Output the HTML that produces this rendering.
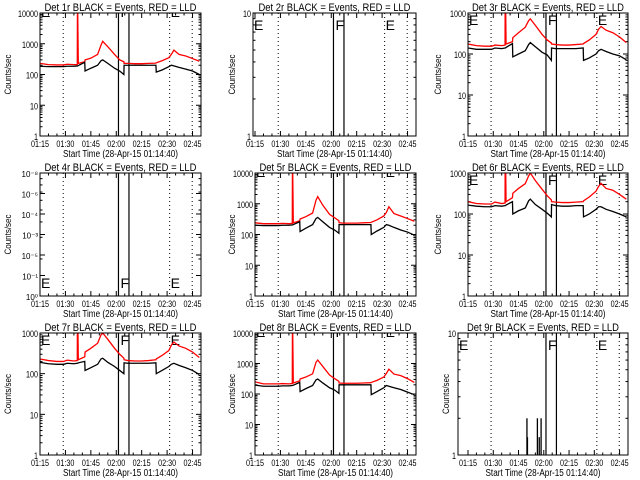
<!DOCTYPE html>
<html><head><meta charset="utf-8"><style>
html,body{margin:0;padding:0;background:#fff;}
svg{display:block;font-family:"Liberation Sans",sans-serif;}
</style></head><body>
<svg id="chart" width="640" height="480" viewBox="0 0 640 480" xmlns="http://www.w3.org/2000/svg">
<rect width="640" height="480" fill="#fff"/>
</svg>
<script>
// time (minutes after 01:15) sample points
const times = [0,5,10,14,16,20,22,22.1,22.2,22.6,26.4,26.6,30,34,36,37,40,44,47,49.5,49.6,52,56,60,64,68.4,68.6,72,76,77.5,79,82,86,90,94];
const tickLabels = ["01:15","01:30","01:45","02:00","02:15","02:30","02:45"];
const tickMinutes = [0,15,30,45,60,75,90];
const dottedMinutes = [13.7,76.5,89.8];
const solidMinutes = [46.3,52.5];
const black1 = [185,180,180,180,185,185,190,190,190,195,250,130,160,200,280,300,230,160,130,100,200,200,200,200,200,200,120,140,180,200,190,170,150,130,100];
const red1   = [230,210,205,205,215,210,210,20000,20000,230,260,300,340,450,900,1200,800,450,300,260,230,230,225,225,230,235,240,280,350,450,620,450,400,330,270];
const black3 = [140,130,130,130,140,135,140,140,140,145,180,85,100,120,170,190,150,110,95,70,140,135,135,135,135,140,70,80,100,120,130,115,100,90,72];
const red3   = [175,160,155,155,165,160,165,5000,5000,175,200,250,330,450,650,720,500,300,220,185,175,170,165,165,170,175,180,220,300,400,470,380,330,260,190];
const black5 = [200,195,195,195,200,200,205,205,205,210,260,125,160,210,330,360,260,170,140,110,210,210,210,210,210,210,100,130,170,210,200,170,140,120,95];
const red5   = [240,225,225,225,230,225,230,20000,20000,240,280,320,380,500,1300,1700,900,450,350,280,240,235,235,235,240,245,250,300,400,520,800,480,400,330,270];
const black6 = [165,155,150,150,160,155,160,160,160,165,200,100,120,140,210,230,170,130,105,85,170,160,155,155,160,160,85,100,130,150,150,130,115,100,85];
const red6   = [200,180,175,175,195,180,185,5000,5000,200,250,320,420,550,850,1000,650,400,280,220,200,195,190,190,195,200,210,260,360,470,560,420,380,300,230];
const black7 = [190,175,170,170,180,175,180,180,180,185,200,120,140,170,230,240,190,150,120,100,185,180,180,180,180,185,100,120,150,170,180,160,140,120,95];
const red7   = [230,210,200,200,215,205,210,5000,5000,220,260,340,420,560,900,1000,700,420,300,240,220,210,205,205,210,220,230,280,370,500,600,480,420,340,250];
const black8 = [195,180,180,180,185,185,190,190,190,195,240,120,150,190,290,310,230,160,135,105,200,200,200,200,200,200,95,120,160,190,180,160,140,115,95];
const red8   = [250,215,215,215,220,215,220,20000,20000,230,270,310,360,460,1100,1300,800,420,320,260,230,225,225,225,230,235,240,280,360,470,650,450,400,320,240];
const spikeTimes9 = [35.0,35.3,41.2,42.3,43.4];
const spikeValues9 = [2,1.4,2,1.4,2];

const NS = "http://www.w3.org/2000/svg";
const svg = document.getElementById("chart");
function mk(tag, attrs, parent){const e=document.createElementNS(NS,tag);for(const k in attrs)e.setAttribute(k,attrs[k]);(parent||svg).appendChild(e);return e;}

const colL=[40,255,468], colR=[201,416,628], rowT=[13,173,333], rowB=[136,296,455];
const ylabX=[11,235,441];
const panels=[
 {n:1,r:0,c:0,ymax:4,black:black1,red:red1,letter:"clipTop"},
 {n:2,r:0,c:1,ymax:1,boxL:253,letter:"top",empty:true},
 {n:3,r:0,c:2,ymax:3,black:black3,red:red3,letter:"in"},
 {n:4,r:1,c:0,ymax:1,letter:"bottom",empty:true,weird:true},
 {n:5,r:1,c:1,ymax:4,black:black5,red:red5,letter:"clipTop"},
 {n:6,r:1,c:2,ymax:3,black:black6,red:red6,letter:"in"},
 {n:7,r:2,c:0,ymax:3,black:black7,red:red7,letter:"in"},
 {n:8,r:2,c:1,ymax:4,black:black8,red:red8,letter:"clipTop"},
 {n:9,r:2,c:2,ymax:1,boxL:458,letter:"top",spikes:true},
];
const XMAX=95;
const fit={"lengthAdjust":"spacingAndGlyphs"};
panels.forEach(p=>{
 const L=colL[p.c],R=colR[p.c],T=rowT[p.r],B=rowB[p.r];
 const BL=p.boxL||L;
 const g=mk("g",{});
 
 
 const xs=m=>L+(m/XMAX)*(R-L);
 const ys=v=>B-(Math.log10(v)/p.ymax)*(B-T);
 const cid="clip"+p.n;
 const cp=mk("clipPath",{id:cid},g);mk("rect",{x:BL,y:T,width:R-BL,height:B-T},cp);
 const t=mk("text",{x:(BL+R)/2,y:T-2,"text-anchor":"middle","font-size":"11",textLength:"152",lengthAdjust:"spacingAndGlyphs"},g);
 t.textContent="Det "+p.n+"r BLACK = Events, RED = LLD";
 
 
 tickMinutes.forEach((m,i)=>{
  const tx=mk("text",{x:xs(m),y:B+11,"text-anchor":"middle","font-size":"9",textLength:"18",lengthAdjust:"spacingAndGlyphs"},g);
  tx.textContent=tickLabels[i];
  
  
  mk("line",{x1:xs(m),x2:xs(m),y1:B,y2:B-5,stroke:"#000"},g);
  mk("line",{x1:xs(m),x2:xs(m),y1:T,y2:T+5,stroke:"#000"},g);
 });
 for(let m=5;m<XMAX;m+=5){if(m%15){mk("line",{x1:xs(m),x2:xs(m),y1:B,y2:B-2.5,stroke:"#000"},g);mk("line",{x1:xs(m),x2:xs(m),y1:T,y2:T+2.5,stroke:"#000"},g);}}
 const xt=mk("text",{x:(BL+R)/2,y:B+21,"text-anchor":"middle","font-size":"10",textLength:"115",lengthAdjust:"spacingAndGlyphs"},g);
 xt.textContent="Start Time (28-Apr-15 01:14:40)";
 
 
 const yt=mk("text",{x:0,y:0,"text-anchor":"middle","font-size":"9",textLength:"40",lengthAdjust:"spacingAndGlyphs",transform:"translate("+(p.c==2&&p.r==2?449:ylabX[p.c])+","+((T+B)/2)+") rotate(-90)"},g);
 yt.textContent="Counts/sec";
 
 
 for(let d=0;d<=p.ymax;d++){
  const y=ys(Math.pow(10,d));
  mk("line",{x1:BL,x2:BL+5,y1:y,y2:y,stroke:"#000"},g);
  mk("line",{x1:R,x2:R-5,y1:y,y2:y,stroke:"#000"},g);
  if(!p.weird){
   const s=String(Math.pow(10,d));
   const lb=mk("text",{x:BL-2,y:y+4,"text-anchor":"end","font-size":"9",textLength:String(s.length*4),lengthAdjust:"spacingAndGlyphs"},g);
   lb.textContent=s;
   
   
  }
  if(d<p.ymax)for(let k=2;k<10;k++){const yy=ys(k*Math.pow(10,d));mk("line",{x1:BL,x2:BL+2.5,y1:yy,y2:yy,stroke:"#000"},g);mk("line",{x1:R,x2:R-2.5,y1:yy,y2:yy,stroke:"#000"},g);}
 }
 if(p.weird){
  const wl=["10⁻⁸","10⁻⁶","10⁻⁴","10⁻³","10⁻⁵","10⁻¹","10⁰"];
  wl.forEach((s,i)=>{const y=T+i*(B-T)/6;const lb=mk("text",{x:BL-2,y:y+4,"text-anchor":"end","font-size":"8"},g);lb.textContent=s;
   
   
   mk("line",{x1:BL,x2:BL+5,y1:y,y2:y,stroke:"#000"},g);mk("line",{x1:R,x2:R-5,y1:y,y2:y,stroke:"#000"},g);});
 }
 dottedMinutes.forEach(m=>mk("line",{x1:xs(m),x2:xs(m),y1:T,y2:B,stroke:"#000","stroke-dasharray":"1,3"},g));
 solidMinutes.forEach(m=>mk("line",{x1:xs(m),x2:xs(m),y1:T,y2:B,stroke:"#000","stroke-width":"1.2"},g));
 const lg=mk("g",{"clip-path":"url(#"+cid+")"},g);
 let by = p.letter=="clipTop"?T+4:p.letter=="in"?T+12:p.letter=="top"?T+17:B-8;
 [[BL+1,"E"],[xs(solidMinutes[0])+2,"F"],[xs(dottedMinutes[1])+1,"E"]].forEach(([x,s])=>{
  const e=mk("text",{x:x,y:by,"font-size":"14"},lg);e.textContent=s;
  
  
 });
 const sg=mk("g",{"clip-path":"url(#"+cid+")"},g);
 if(p.red){
  const pl=mk("polyline",{points:times.map((m,i)=>xs(m)+","+ys(p.red[i])).join(" "),fill:"none",stroke:"#f00","stroke-width":"1.3"},sg);
  
  
 }
 if(p.black){
  const pl=mk("polyline",{points:times.map((m,i)=>xs(m)+","+ys(p.black[i])).join(" "),fill:"none",stroke:"#000","stroke-width":"1.3"},sg);
  
  
 }
 if(p.spikes){
  spikeTimes9.forEach((m,i)=>{const l=mk("line",{x1:xs(m),x2:xs(m),y1:B,y2:ys(spikeValues9[i]),stroke:"#000","stroke-width":"1.3"},sg);
   
   });
 }
 const box=mk("rect",{x:BL,y:T,width:R-BL,height:B-T,fill:"none",stroke:"#000"},g);
 
 
});
</script>
</body></html>
